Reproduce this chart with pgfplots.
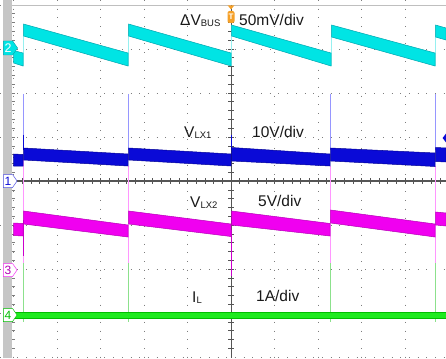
\documentclass[border=0pt]{standalone}
\usepackage{pgfplots}
\pgfplotsset{compat=1.18}
\usepackage{fontspec}
\setmainfont{Liberation Sans}
\usetikzlibrary{shapes.symbols,shapes.geometric}
\definecolor{ccyan}{RGB}{0,228,228}
\definecolor{ccyanE}{RGB}{0,165,175}
\definecolor{ccyanL}{RGB}{150,240,240}
\definecolor{cblue}{RGB}{10,10,215}
\definecolor{cblueE}{RGB}{0,0,150}
\definecolor{cblueL}{RGB}{150,150,255}
\definecolor{cmag}{RGB}{240,0,240}
\definecolor{cmagE}{RGB}{180,0,180}
\definecolor{cmagL}{RGB}{255,150,255}
\definecolor{cgreen}{RGB}{30,235,30}
\definecolor{cgreenE}{RGB}{0,190,0}
\definecolor{cgreenL}{RGB}{140,225,140}
\definecolor{gridc}{RGB}{125,125,125}
\definecolor{axc}{RGB}{85,85,85}
\definecolor{barc}{RGB}{198,198,198}
\definecolor{orng}{RGB}{245,160,40}
\definecolor{txt}{RGB}{25,25,25}
\begin{document}
\begin{tikzpicture}
\begin{axis}[width=446pt,height=358pt,scale only axis,
 xmin=0,xmax=446,ymin=0,ymax=358,y dir=reverse,
 axis line style={draw=none},
 xtick={13.5,57,100.5,144,187.5,274.5,318,361.5,405},
 ytick={5,49,93,137,225,269,313,357},
 xticklabels={},yticklabels={},major tick length=0pt,
 grid=major,
 grid style={gridc,line width=0.9pt,dash pattern=on 0.9pt off 7.8pt},
 clip=true]
% left gray bar
\addplot[fill=barc,draw=none] coordinates {(3,0) (12,0) (12,358) (3,358)} -- cycle;
% top border line
\addplot[gray!50,line width=0.6pt] coordinates {(12,5) (446,5)};
% centre lines
\addplot[axc,line width=0.9pt] coordinates {(231,5) (231,358)};
\addplot[axc,line width=1.1pt] coordinates {(12,181) (446,181)};
\pgfplotsinvokeforeach{1,...,49}{\draw[axc,line width=0.6pt] (axis cs:{13.5+8.7*#1},178.3) -- (axis cs:{13.5+8.7*#1},183.7);}
\pgfplotsinvokeforeach{1,...,39}{\draw[axc,line width=0.6pt] (axis cs:228.3,{5+8.8*#1}) -- (axis cs:233.7,{5+8.8*#1});}
\pgfplotsinvokeforeach{1,...,39}{\draw[gridc,line width=0.6pt] (axis cs:12,{5+8.8*#1}) -- (axis cs:15,{5+8.8*#1});}
% ---- switching spikes (thin light lines) ----
\addplot[cblueL,line width=0.8pt] coordinates {(23,94) (23,150)};
\addplot[cblueL,line width=0.8pt] coordinates {(128,94) (128,150)};
\addplot[cblueL,line width=0.8pt] coordinates {(330,94) (330,150)};
\addplot[cblueL,line width=0.8pt] coordinates {(435,94) (435,150)};
\addplot[cblue,line width=0.9pt] coordinates {(23,135) (23,150)};
\addplot[cblue,line width=0.9pt] coordinates {(231,135) (231,150)};
\addplot[cmagL,line width=0.8pt] coordinates {(23,160) (23,263)};
\addplot[cmagL,line width=0.8pt] coordinates {(128,166) (128,263)};
\addplot[cmagL,line width=0.8pt] coordinates {(330,166) (330,263)};
\addplot[cmagL,line width=0.8pt] coordinates {(435,166) (435,263)};
\addplot[cmag!85!black,line width=0.9pt] coordinates {(23,220) (23,256)};
\addplot[cmag!85!black,line width=0.9pt] coordinates {(231,230) (231,276)};
\addplot[cgreenL,line width=0.8pt] coordinates {(23,263) (23,322)};
\addplot[cgreenL,line width=0.8pt] coordinates {(128,263) (128,322)};
\addplot[cgreenL,line width=0.8pt] coordinates {(330,263) (330,322)};
\addplot[cgreenL,line width=0.8pt] coordinates {(435,263) (435,322)};
\addplot[ccyanL,line width=0.8pt] coordinates {(23,24) (23,66)};
\addplot[ccyanL,line width=0.8pt] coordinates {(128,24) (128,66)};
\addplot[ccyanL,line width=0.8pt] coordinates {(231,25) (231,66)};
\addplot[ccyanL,line width=0.8pt] coordinates {(331,25) (331,66)};
\addplot[ccyanL,line width=0.8pt] coordinates {(435,25) (435,66)};
% ---- channel 2: Delta V_BUS (cyan) ----
\addplot[fill=ccyan,draw=ccyanE,line width=0.5pt] coordinates {(13.5,50.5) (23,53) (23,66) (13.5,63)} -- cycle;
\addplot[fill=ccyan,draw=ccyanE,line width=0.5pt] coordinates {(23.5,24) (128,53) (128,66) (23.5,36)} -- cycle;
\addplot[fill=ccyan,draw=ccyanE,line width=0.5pt] coordinates {(128.5,24) (231,53) (231,66) (128.5,36)} -- cycle;
\addplot[fill=ccyan,draw=ccyanE,line width=0.5pt] coordinates {(231.5,25) (331,53) (331,66) (231.5,36)} -- cycle;
\addplot[fill=ccyan,draw=ccyanE,line width=0.5pt] coordinates {(331.5,25) (435,53) (435,66) (331.5,37)} -- cycle;
\addplot[fill=ccyan,draw=ccyanE,line width=0.5pt] coordinates {(435.5,25) (446,28) (446,40) (435.5,37)} -- cycle;
% ---- channel 1: V_LX1 (blue) ----
\addplot[fill=cblue,draw=cblueE,line width=0.5pt] coordinates {(13.5,154) (23,154.5) (23,166) (13.5,166)} -- cycle;
\addplot[fill=cblue,draw=cblueE,line width=0.5pt] coordinates {(23.5,148) (128,154) (128,166) (23.5,160)} -- cycle;
\addplot[fill=cblue,draw=cblueE,line width=0.5pt] coordinates {(128.5,148) (231,154) (231,166) (128.5,160)} -- cycle;
\addplot[fill=cblue,draw=cblueE,line width=0.5pt] coordinates {(231.5,147.5) (330,154) (330,166) (231.5,161)} -- cycle;
\addplot[fill=cblue,draw=cblueE,line width=0.5pt] coordinates {(330.5,148) (435,153) (435,166.5) (330.5,161)} -- cycle;
\addplot[fill=cblue,draw=cblueE,line width=0.5pt] coordinates {(435.5,147.5) (446,148) (446,162) (435.5,161.5)} -- cycle;
% ---- channel 3: V_LX2 (magenta) ----
\addplot[fill=cmag,draw=cmagE,line width=0.5pt] coordinates {(13.5,223) (23,223.5) (23,236) (13.5,235.5)} -- cycle;
\addplot[fill=cmag,draw=cmagE,line width=0.5pt] coordinates {(23.5,211) (128,225) (128,237) (23.5,224)} -- cycle;
\addplot[fill=cmag,draw=cmagE,line width=0.5pt] coordinates {(128.5,211) (231,224) (231,236.5) (128.5,224)} -- cycle;
\addplot[fill=cmag,draw=cmagE,line width=0.5pt] coordinates {(231.5,211) (330,223.5) (330,236) (231.5,225)} -- cycle;
\addplot[fill=cmag,draw=cmagE,line width=0.5pt] coordinates {(330.5,210) (435,224) (435,237) (330.5,223)} -- cycle;
\addplot[fill=cmag,draw=cmagE,line width=0.5pt] coordinates {(435.5,212) (446,213) (446,226) (435.5,225)} -- cycle;
% ---- channel 4: I_L (green) ----
\addplot[fill=cgreen,draw=cgreenE,line width=0.5pt] coordinates {(13.5,312) (446,312) (446,318.5) (13.5,318.5)} -- cycle;
% ---- labels ----
\node[anchor=base west,inner sep=0,text=txt,font=\fontsize{15.5}{18}\selectfont] at (axis cs:180,26) {ΔV\raisebox{-1pt}{\fontsize{9.5}{11}\selectfont BUS}};
\node[anchor=base west,inner sep=0,text=txt,font=\fontsize{15.5}{18}\selectfont] at (axis cs:239,26) {50mV/div};
\node[anchor=base west,inner sep=0,text=txt,font=\fontsize{15.5}{18}\selectfont] at (axis cs:184,138) {V\raisebox{-1pt}{\fontsize{9.5}{11}\selectfont LX1}};
\node[anchor=base west,inner sep=0,text=txt,font=\fontsize{15.5}{18}\selectfont] at (axis cs:252,138) {10V/div};
\node[anchor=base west,inner sep=0,text=txt,font=\fontsize{15.5}{18}\selectfont] at (axis cs:190,207) {V\raisebox{-1pt}{\fontsize{9.5}{11}\selectfont LX2}};
\node[anchor=base west,inner sep=0,text=txt,font=\fontsize{15.5}{18}\selectfont] at (axis cs:258,206) {5V/div};
\node[anchor=base west,inner sep=0,text=txt,font=\fontsize{15.5}{18}\selectfont] at (axis cs:192,302) {I\raisebox{-1pt}{\fontsize{9.5}{11}\selectfont L}};
\node[anchor=base west,inner sep=0,text=txt,font=\fontsize{15.5}{18}\selectfont] at (axis cs:256,301) {1A/div};
% ---- channel markers ----
\node[signal,signal to=east,signal pointer angle=110,fill=ccyan,draw=ccyanE,line width=0.4pt,text=white,inner sep=1.2pt,minimum height=14pt,minimum width=11pt,font=\fontsize{12.5}{13}\selectfont] at (axis cs:8,48) {2};
\node[signal,signal to=east,signal pointer angle=110,fill=white,draw=cblue!70,line width=0.5pt,text=cblue,inner sep=1.2pt,minimum height=13pt,minimum width=11pt,font=\fontsize{12}{13}\selectfont] at (axis cs:8,181) {1};
\node[signal,signal to=east,signal pointer angle=110,fill=white,draw=cmag!80,line width=0.5pt,text=cmagE,inner sep=1.2pt,minimum height=13pt,minimum width=11pt,font=\fontsize{12}{13}\selectfont] at (axis cs:8,270) {3};
\node[signal,signal to=east,signal pointer angle=110,fill=white,draw=cgreenE,line width=0.5pt,text=cgreenE,inner sep=1.2pt,minimum height=13pt,minimum width=11pt,font=\fontsize{12}{13}\selectfont] at (axis cs:8,315) {4};
% trigger markers
\node[isosceles triangle,shape border rotate=-90,fill=orng,inner sep=0,minimum width=6pt,minimum height=4pt,isosceles triangle apex angle=80] at (axis cs:231,7) {};
\node[fill=orng,rounded corners=2pt,inner sep=0,minimum width=7pt,minimum height=12pt,text=white,font=\fontsize{8}{9}\selectfont\bfseries] at (axis cs:231,17) {T};
\node[diamond,fill=cblue,inner sep=0,minimum width=7pt,minimum height=9pt] at (axis cs:446,138) {};
\end{axis}
\pgfresetboundingbox
\path[use as bounding box] (current axis.south west) rectangle (current axis.north east);
\end{tikzpicture}
\end{document}
